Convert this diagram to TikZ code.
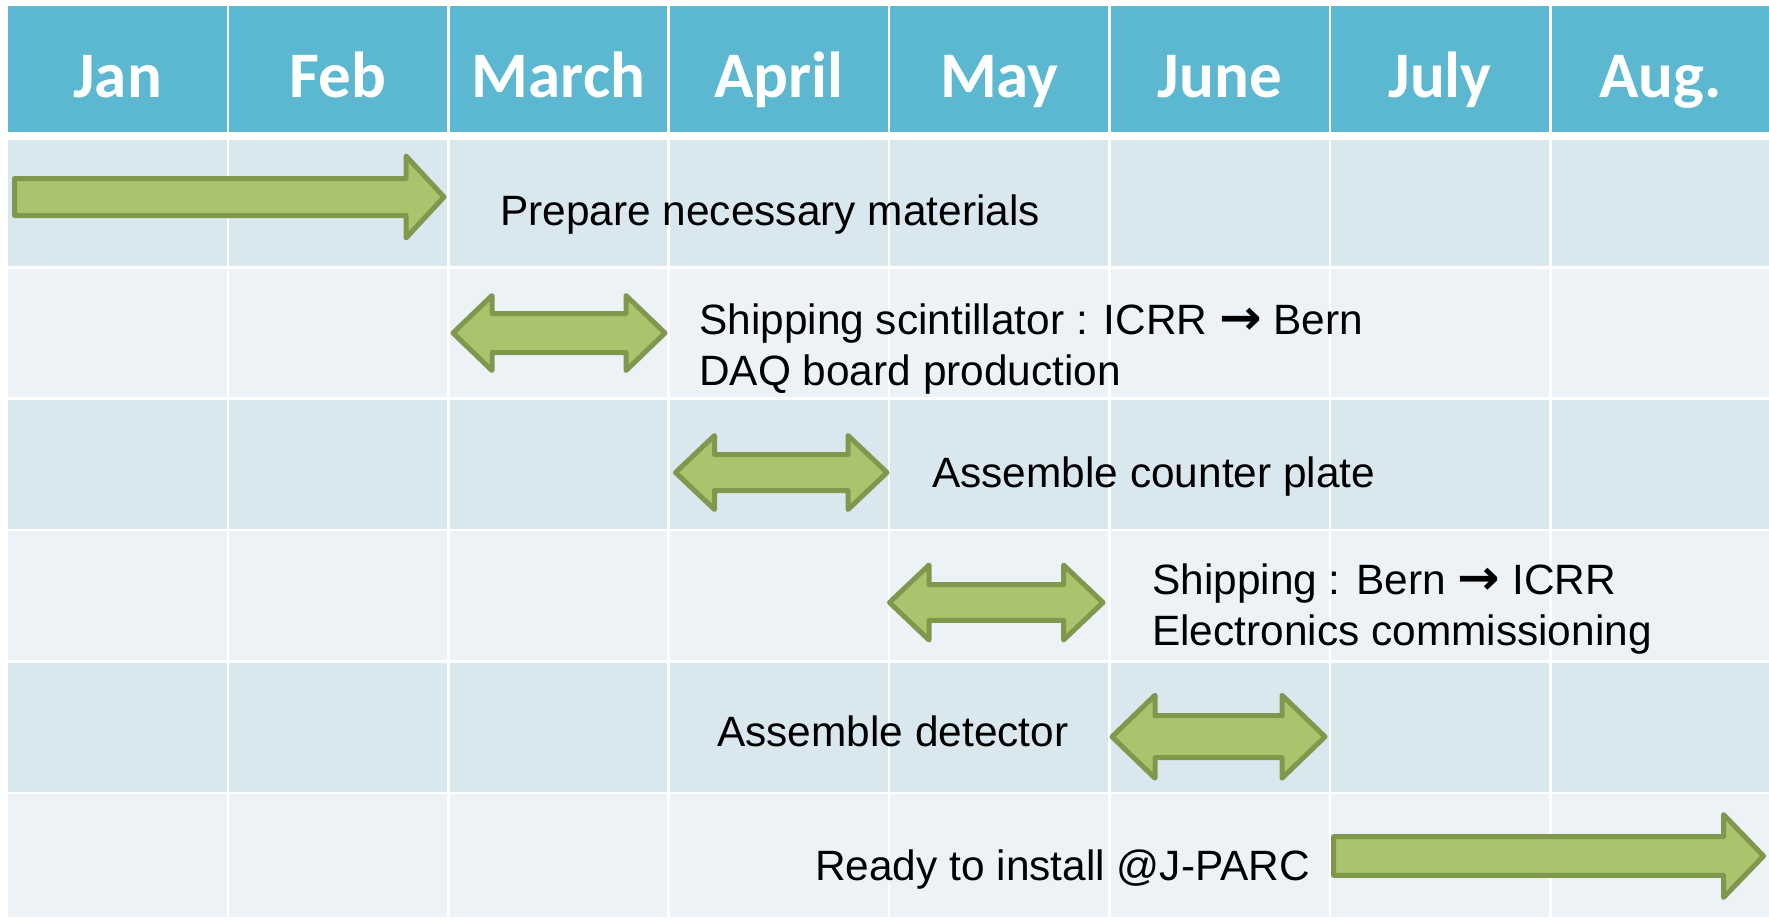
\documentclass[tikz,border=0pt]{standalone}
\usepackage{fontspec}
\usepackage{graphicx}
\setmainfont{Liberation Sans}
\newfontfamily\headfont{Carlito}
\newfontfamily\symfont{DejaVu Sans}

\definecolor{headblue}{RGB}{91,184,208}
\definecolor{banddark}{RGB}{217,231,238}
\definecolor{bandlight}{RGB}{237,242,247}
\definecolor{barfill}{RGB}{169,196,108}
\definecolor{barline}{RGB}{128,152,78}

% schedule bars: left x, right x, centre y, half shaft, half head, head length
\newcommand\singlebar[6]{%
  \draw[bar] (#1,#3-#4) -- (#2-#6,#3-#4) -- (#2-#6,#3-#5) -- (#2,#3)
    -- (#2-#6,#3+#5) -- (#2-#6,#3+#4) -- (#1,#3+#4) -- cycle;}
\newcommand\doublebar[6]{%
  \draw[bar] (#1,#3) -- (#1+#6,#3-#5) -- (#1+#6,#3-#4) -- (#2-#6,#3-#4)
    -- (#2-#6,#3-#5) -- (#2,#3) -- (#2-#6,#3+#5) -- (#2-#6,#3+#4)
    -- (#1+#6,#3+#4) -- (#1+#6,#3+#5) -- cycle;}
\newcommand\toarrow{\scalebox{1.2}[1.15]{\symfont\bfseries →}}

\begin{document}
\begin{tikzpicture}[x=1pt,y=-1pt,
  month/.style={text=white, font=\headfont\bfseries\fontsize{65}{78}\selectfont,
    anchor=base, inner sep=0pt},
  task/.style={text=black, font=\fontsize{42.4}{50.9}\selectfont,
    anchor=base west, inner sep=0pt, align=left},
  bar/.style={fill=barfill, draw=barline, line width=5pt, line join=round},
  gridline/.style={draw=white, line width=2.5pt}]

\useasboundingbox (0,0) rectangle (1769,919);
\fill[white] (0,0) rectangle (1769,919);

% header band and alternating row bands
\fill[headblue] (7.5,6) rectangle (1769,132);
\fill[banddark]  (7.5,140)   rectangle (1769,267.5);
\fill[bandlight] (7.5,267.5) rectangle (1769,398.5);
\fill[banddark]  (7.5,398.5) rectangle (1769,530);
\fill[bandlight] (7.5,530)   rectangle (1769,661.5);
\fill[banddark]  (7.5,661.5) rectangle (1769,793);
\fill[bandlight] (7.5,793)   rectangle (1769,917);

% cell borders
\foreach \k in {1,...,7}
  \draw[gridline] ({7.5+220.4*\k},0) -- ({7.5+220.4*\k},919);
\foreach \y in {267.5,398.5,530,661.5,793}
  \draw[gridline] (7.5,\y) -- (1769,\y);

% month headings
\foreach \m [count=\i from 0] in {Jan,Feb,March,April,May,June,July,Aug.}
  \node[month] (m\i) at ({7.5+220.4*(\i+0.5)},97) {\m};

% bars
\singlebar{14.5}{444}{197}{18.5}{41}{38}
\doublebar{453}{665}{333}{19.5}{37.5}{39}
\doublebar{675.5}{887}{472.5}{18}{37}{39}
\doublebar{889.5}{1103}{602.5}{17.8}{37.5}{39.5}
\doublebar{1112}{1325}{736.7}{21}{41.5}{43}
\singlebar{1333.5}{1763.5}{856}{19.3}{41.5}{40}

% task labels (two-line labels are placed by their last baseline)
\node[task] (t1) at (500,225.6) {Prepare necessary materials};
\node[task] (t2) at (699,385) {Shipping scintillator : ICRR \toarrow{} Bern\\DAQ board production};
\node[task] (t3) at (932,487.5) {Assemble counter plate};
\node[task] (t4) at (1152,645.3) {Shipping : Bern \toarrow{} ICRR\\Electronics commissioning};
\node[task] (t5) at (717,746.8) {Assemble detector};
\node[task] (t6) at (815,880) {Ready to install @J-PARC};
\end{tikzpicture}
\end{document}
